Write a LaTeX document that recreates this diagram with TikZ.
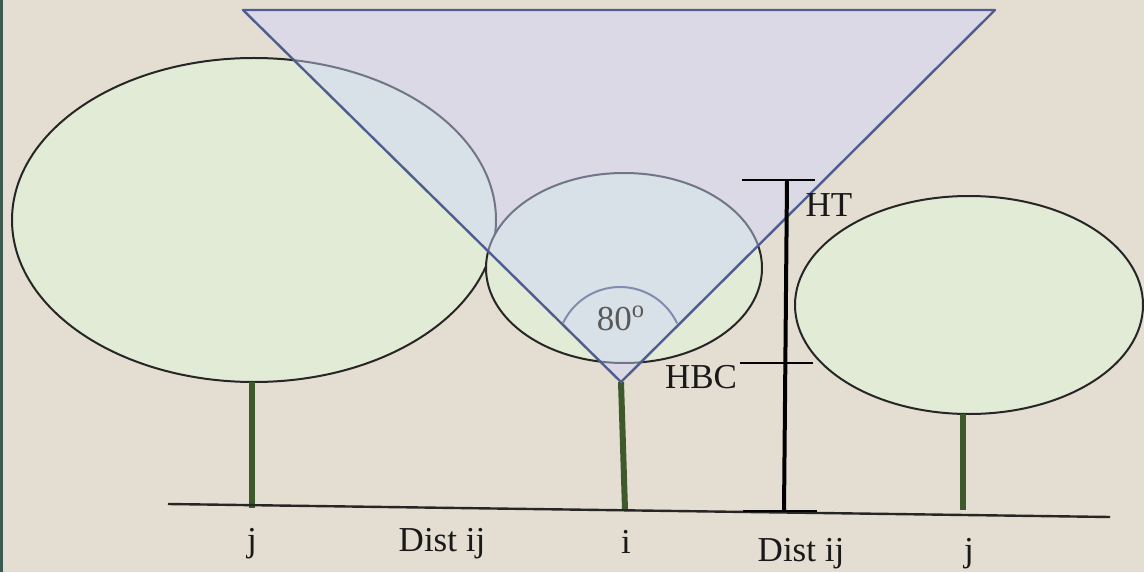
\documentclass[tikz,border=0pt]{standalone}
\usepackage{fontspec}
\setmainfont{Liberation Serif}
\begin{document}
\definecolor{paper}{HTML}{E4DDD1}
\definecolor{edgestrip}{HTML}{3B5A50}
\definecolor{crown}{HTML}{E2EBD5}
\definecolor{trunkgreen}{HTML}{3E5A2C}
\definecolor{conefill}{RGB}{206,214,255}
\definecolor{coneline}{HTML}{4F5D8F}
\definecolor{anglegray}{HTML}{7F8DAE}
\begin{tikzpicture}[x=0.5pt,y=-0.5pt,
  crownshape/.style={draw=black!85,line width=1pt,fill=crown},
  trunk/.style={draw=trunkgreen,line width=3pt},
  cone/.style={draw=coneline,line width=1.2pt,fill=conefill,fill opacity=0.45,line join=round},
  rod/.style={draw=black,line width=2pt},
  tick/.style={draw=black,line width=1.4pt},
  lbl/.style={font=\fontsize{17.5pt}{20pt}\selectfont,text=black!90,inner sep=0pt,anchor=base}]
  % canvas and left edge strip
  \fill[paper] (0,0) rectangle (1144,572);
  \fill[edgestrip] (0,0) rectangle (3,572);
  \useasboundingbox (0,0) rectangle (1144,572);

  % tree crowns
  \draw[crownshape] (254,220) ellipse [x radius=242, y radius=162];
  \draw[crownshape] (624,268) ellipse [x radius=138, y radius=95];
  \draw[crownshape] (969,305) ellipse [x radius=174, y radius=109];

  % key points
  \coordinate (apex) at (621,382);
  \coordinate (coneL) at (243,10);
  \coordinate (coneR) at (995,10);
  \coordinate (groundL) at (168,504);
  \coordinate (groundR) at (1110,517);

  % trunks
  \draw[trunk] (252,382) -- (252,508);
  \draw[trunk] (apex) -- (625,510);
  \draw[trunk] (963,414) -- (963,510);

  % ground line
  \draw[draw=black!85,line width=1.2pt] (groundL) -- (groundR);

  % view cone with its opening angle
  \draw[cone] (coneL) -- (coneR) -- (apex) -- cycle;
  \draw[anglegray,line width=1pt] plot[domain=25:155,samples=50,variable=\t]
    ({620+63*cos(\t)},{350-63*sin(\t)});
  \node[lbl,text=black!65] (ang) at (621,330) {80\textsuperscript{o}};

  % height rod with HBC and HT marks
  \coordinate (rodtop) at (787,180);
  \coordinate (rodmid) at (785,363);
  \coordinate (rodbot) at (784,511);
  \draw[rod] (rodtop) -- (rodbot);
  \draw[tick] (742,180) -- (815,180);
  \draw[tick] (740,363) -- (813,363);
  \draw[tick] (743,511) -- (817,511);
  \node[lbl] (ht) at (829,217) {HT};
  \node[lbl] (hbc) at (701,388) {HBC};

  % ground labels
  \node[lbl] (jl) at (252,551) {j};
  \node[lbl] (dl) at (442,551) {Dist ij};
  \node[lbl] (ii) at (626,553) {i};
  \node[lbl] (dr) at (801,561) {Dist ij};
  \node[lbl] (jr) at (969,561) {j};
\end{tikzpicture}
\end{document}
